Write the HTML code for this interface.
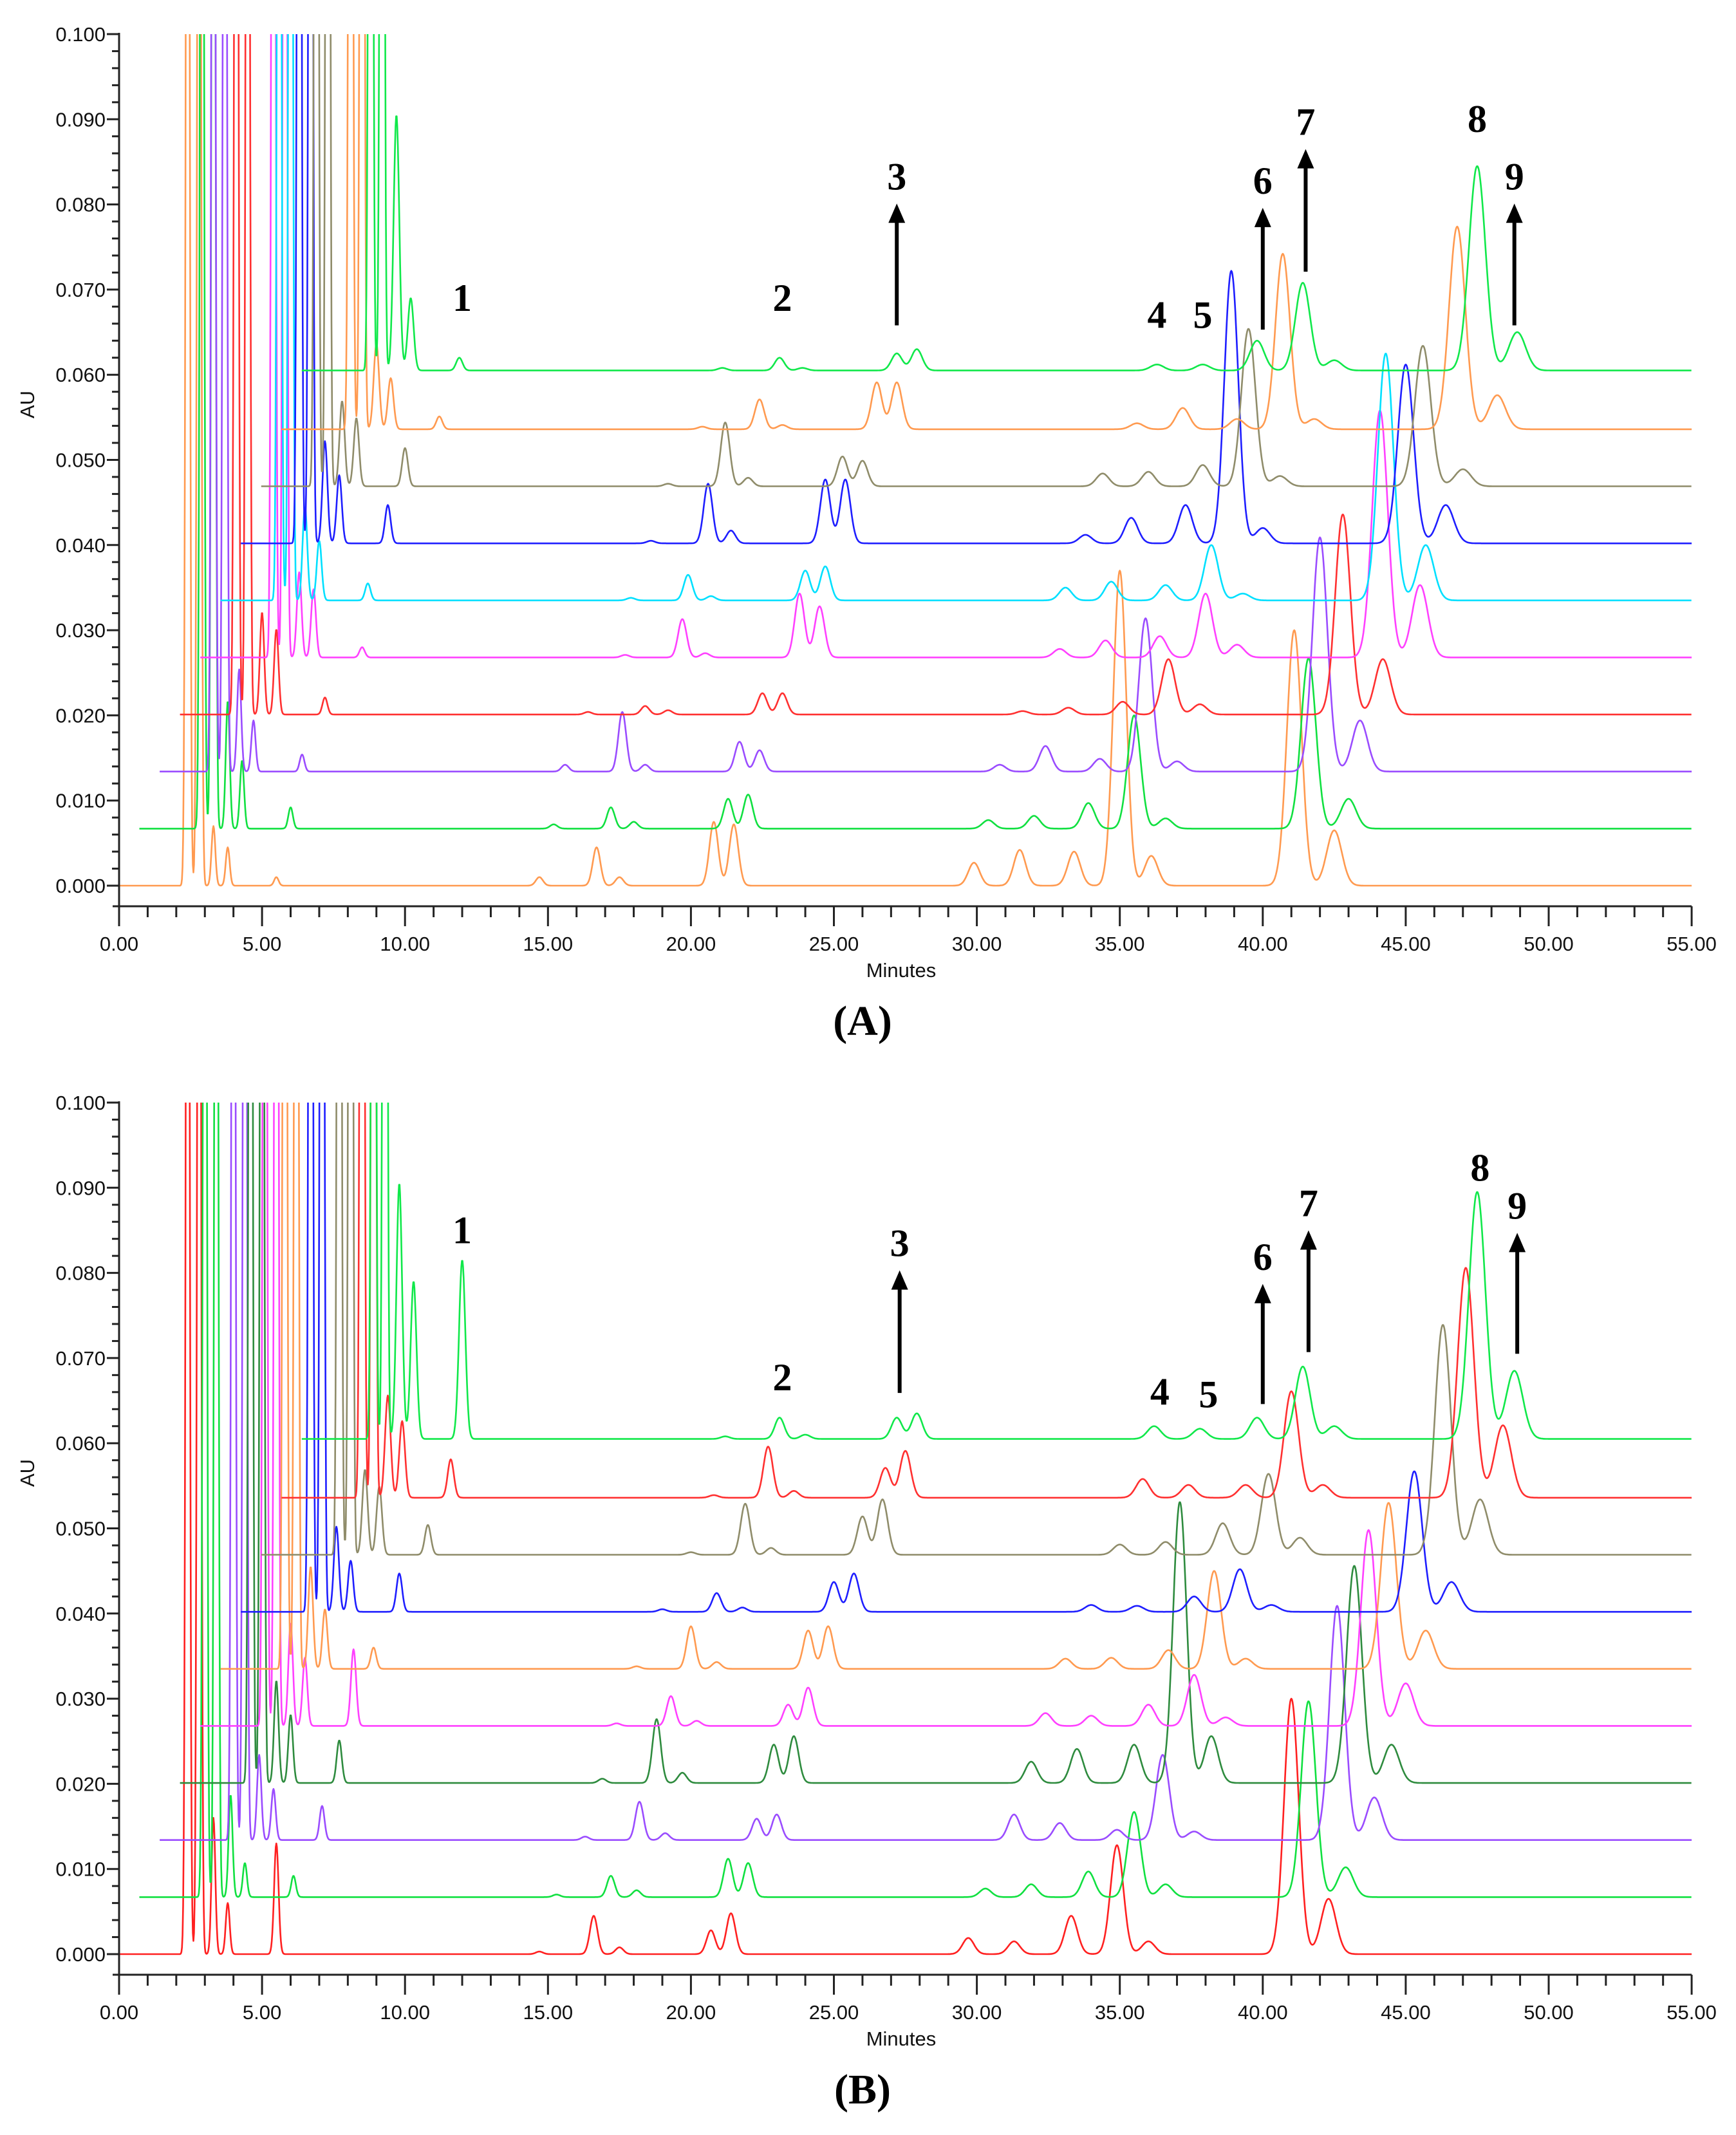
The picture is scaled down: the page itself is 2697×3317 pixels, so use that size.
<!DOCTYPE html>
<html><head><meta charset="utf-8"><style>
html,body{margin:0;padding:0;background:#fff;}
svg{display:block;}
text{font-family:"Liberation Sans",Arial,sans-serif;}
.num{font-family:"Liberation Serif",serif;font-weight:bold;font-size:60px;}
.pl{font-family:"Liberation Serif",serif;font-weight:bold;font-size:66px;}
</style></head><body>
<svg id="chart" width="2697" height="3317" viewBox="0 0 2697 3317" xmlns="http://www.w3.org/2000/svg">
<defs>
<clipPath id="clipA"><rect x="150" y="53" width="2500" height="1360"/></clipPath>
<clipPath id="clipB"><rect x="150" y="1713" width="2500" height="1360"/></clipPath>
</defs>
<g id="panelA"></g>
<g id="panelB"></g>
</svg>
<script>
// ---- data ----
const peakTimesA = [3.3,3.8,5.5,14.7,16.7,17.5,20.8,21.5,29.9,31.5,33.4,35.0,36.1,41.1,42.5];
const peakTimesB = [3.3,3.8,5.5,14.7,16.6,17.5,20.7,21.4,29.7,31.3,33.3,34.9,36.0,41.0,42.3];
const solventTimes = [2.4,2.8];
const solventHeights = [0.2,0.2];
const baselinesAU = [0,0.0067,0.0134,0.0201,0.0268,0.0335,0.0402,0.0469,0.0536,0.0605];
const timeShiftA = [0,0.5,0.9,1.7,3.0,3.2,3.9,4.5,5.7,6.4];
const timeShiftB = [0,0.6,1.6,2.2,2.7,3.4,4.3,5.3,6.1,6.5];
const startStep = 0.71;
const colorsA = ["#ff9a50","#10e040","#9a4cff","#ff3030","#ff40ff","#00e0ff","#1e1eff","#8f8c6a","#ff9a50","#10e84a"];
const colorsB = ["#ff2020","#10e040","#9a4cff","#2e8b3e","#ff40ff","#ff9a50","#1e1eff","#8f8c6a","#ff3030","#10e84a"];
const heightsA = [
[0.007,0.0045,0.001,0.001,0.0045,0.001,0.0075,0.0072,0.0027,0.0042,0.004,0.037,0.0035,0.030,0.0065],
[0.015,0.008,0.0025,0.0005,0.0025,0.0008,0.0035,0.004,0.001,0.0015,0.003,0.0133,0.0012,0.020,0.0035],
[0.012,0.006,0.002,0.0008,0.007,0.0008,0.0035,0.0025,0.0008,0.003,0.0015,0.018,0.0012,0.0275,0.006],
[0.012,0.01,0.002,0.0003,0.001,0.0005,0.0025,0.0025,0.0004,0.0008,0.0015,0.0065,0.0012,0.0235,0.0065],
[0.01,0.008,0.0012,0.0003,0.0045,0.0005,0.0075,0.006,0.001,0.002,0.0025,0.0075,0.0015,0.029,0.0085],
[0.011,0.007,0.002,0.0003,0.003,0.0005,0.0035,0.004,0.0015,0.0022,0.0018,0.0065,0.0008,0.029,0.0065],
[0.012,0.008,0.0045,0.0003,0.007,0.0015,0.0075,0.0075,0.001,0.003,0.0045,0.032,0.0018,0.021,0.0045],
[0.01,0.008,0.0045,0.0003,0.0075,0.001,0.0035,0.003,0.0015,0.0017,0.0025,0.0185,0.0012,0.0165,0.002],
[0.01,0.006,0.0015,0.0003,0.0035,0.0005,0.0055,0.0055,0.0007,0.0025,0.0012,0.0206,0.0012,0.0238,0.004],
[0.03,0.0085,0.0015,0.0003,0.0015,0.0003,0.002,0.0025,0.0007,0.0007,0.0035,0.0103,0.0012,0.024,0.0045]
];
const heightsB = [
[0.016,0.006,0.013,0.0003,0.0045,0.0008,0.0028,0.0048,0.0019,0.0015,0.0045,0.0128,0.0015,0.030,0.0065],
[0.012,0.004,0.0025,0.0003,0.0025,0.0008,0.0045,0.004,0.001,0.0015,0.003,0.010,0.0015,0.023,0.0035],
[0.01,0.006,0.004,0.0004,0.0045,0.0008,0.0025,0.003,0.003,0.002,0.0012,0.010,0.001,0.0275,0.005],
[0.012,0.008,0.005,0.0005,0.0075,0.0012,0.0045,0.0055,0.0025,0.004,0.0045,0.033,0.0055,0.0255,0.0045],
[0.012,0.008,0.009,0.0003,0.0035,0.0006,0.0025,0.0045,0.0015,0.0012,0.0025,0.006,0.001,0.023,0.005],
[0.012,0.007,0.0025,0.0003,0.005,0.0008,0.0045,0.005,0.0012,0.0013,0.0022,0.0115,0.0012,0.0195,0.0045],
[0.01,0.006,0.0045,0.0003,0.0022,0.0005,0.0035,0.0045,0.0008,0.0007,0.0018,0.005,0.0008,0.0165,0.0035],
[0.01,0.008,0.0035,0.0003,0.006,0.0008,0.0045,0.0065,0.0012,0.0015,0.0037,0.0095,0.002,0.027,0.0065],
[0.012,0.009,0.0045,0.0003,0.006,0.0008,0.0035,0.0055,0.0022,0.0015,0.0015,0.0125,0.0015,0.027,0.0085],
[0.03,0.0185,0.021,0.0003,0.0025,0.0005,0.0025,0.003,0.0015,0.0012,0.0025,0.0085,0.0015,0.029,0.008]
];
const xTicks = ["0.00","5.00","10.00","15.00","20.00","25.00","30.00","35.00","40.00","45.00","50.00","55.00"];
const yTicks = ["0.000","0.010","0.020","0.030","0.040","0.050","0.060","0.070","0.080","0.090","0.100"];
const labelsA = [["1",12.0,0.0675],["2",23.2,0.0675],["4",36.3,0.0655],["5",37.9,0.0655],["8",47.5,0.0885]];
const arrowsA = [["3",27.2,0.0658,0.0801],["6",40.0,0.0653,0.0796],["7",41.5,0.0721,0.0865],["9",48.8,0.0658,0.0801]];
const labelsB = [["1",12.0,0.0835],["2",23.2,0.0662],["4",36.4,0.0645],["5",38.1,0.0642],["8",47.6,0.0908]];
const arrowsB = [["3",27.3,0.0659,0.0803],["6",40.0,0.0646,0.0787],["7",41.6,0.0707,0.0850],["9",48.9,0.0705,0.0847]];

// ---- drawing ----
const NS="http://www.w3.org/2000/svg";
const X0=185, PXMIN=44.42, PXAU=13230;
function xOf(t){return X0+t*PXMIN;}
function mk(tag,parent,attrs){const e=document.createElementNS(NS,tag);for(const k in attrs)e.setAttribute(k,attrs[k]);parent.appendChild(e);return e;}

function drawPanel(g,yZero,clipId,peakTimes,heights,shifts,colors,labels,arrows,panelLetter){
  const yOf=a=>yZero-a*PXAU;
  const axisY=yZero+32;
  const tg=mk('g',g,{'clip-path':'url(#'+clipId+')'});
  for(let i=0;i<10;i++){
    const start=i*startStep;
    let d='';
    for(let t=start;t<=55.0001;t+=0.02){
      let v=baselinesAU[i];
      for(let k=0;k<solventTimes.length;k++){
        const c=solventTimes[k]+shifts[i], s=0.06;
        v+=solventHeights[k]*Math.exp(-0.5*((t-c)/s)**2);
      }
      for(let k=0;k<peakTimes.length;k++){
        const c=peakTimes[k]+shifts[i], s=0.05+0.005*c;
        v+=heights[i][k]*Math.exp(-0.5*((t-c)/s)**2);
      }
      d+=(d?'L':'M')+xOf(t).toFixed(1)+' '+yOf(v).toFixed(1);
    }
    const p=mk('path',tg,{d:d,fill:'none',stroke:colors[i],'stroke-width':2.6,'stroke-linejoin':'round'});
    
    
  }
  const ax=mk('g',g,{stroke:'#222','stroke-width':3});
  
  
  mk('line',ax,{x1:X0,y1:yOf(0.1)-2,x2:X0,y2:axisY});
  mk('line',ax,{x1:X0-10,y1:axisY,x2:xOf(55),y2:axisY});
  for(let m=0;m<=55;m++){
    const maj=m%5===0;
    mk('line',ax,{x1:xOf(m),y1:axisY,x2:xOf(m),y2:axisY+(maj?31:17)});
  }
  for(let k=0;k<=50;k++){
    const a=k*0.002, maj=k%5===0;
    mk('line',ax,{x1:X0-(maj?19:11),y1:yOf(a),x2:X0,y2:yOf(a)});
  }
  xTicks.forEach((s,j)=>{
    const t=mk('text',g,{x:xOf(j*5),y:axisY+69,'font-size':31,'text-anchor':'middle',fill:'#111'});
    t.textContent=s;
    
    
  });
  yTicks.forEach((s,j)=>{
    const t=mk('text',g,{x:X0-21,y:yOf(j*0.01)+11,'font-size':31,'text-anchor':'end',fill:'#111'});
    t.textContent=s;
    
    
  });
  const xt=mk('text',g,{x:1400,y:axisY+110,'font-size':31,'text-anchor':'middle',fill:'#111'});
  xt.textContent='Minutes';
  
  
  const yt=mk('text',g,{x:0,y:0,'font-size':31,'text-anchor':'middle',fill:'#111',transform:'translate(53,'+yOf(0.0565)+') rotate(-90)'});
  yt.textContent='AU';
  
  
  const pl=mk('text',g,{x:1340,y:axisY+200,'class':'pl','text-anchor':'middle',fill:'#000'});
  pl.textContent='('+panelLetter+')';
  
  
  labels.forEach(l=>{
    const t=mk('text',g,{x:xOf(l[1]),y:yOf(l[2]),'class':'num','text-anchor':'middle',fill:'#000'});
    t.textContent=l[0];
    
    
  });
  arrows.forEach(a=>{
    const x=xOf(a[1]), yb=yOf(a[2]), yt2=yOf(a[3]);
    const ag=mk('g',g,{});
    
    
    mk('line',ag,{x1:x,y1:yb,x2:x,y2:yt2+25,stroke:'#000','stroke-width':6});
    mk('polygon',ag,{points:(x-13)+','+(yt2+30)+' '+(x+13)+','+(yt2+30)+' '+x+','+yt2,fill:'#000'});
    const t=mk('text',ag,{x:x,y:yt2-22,'class':'num','text-anchor':'middle',fill:'#000'});
    t.textContent=a[0];
    
    
  });
}
drawPanel(document.getElementById('panelA'),1376,'clipA',peakTimesA,heightsA,timeShiftA,colorsA,labelsA,arrowsA,'A');
drawPanel(document.getElementById('panelB'),3036,'clipB',peakTimesB,heightsB,timeShiftB,colorsB,labelsB,arrowsB,'B');
</script>
</body></html>
